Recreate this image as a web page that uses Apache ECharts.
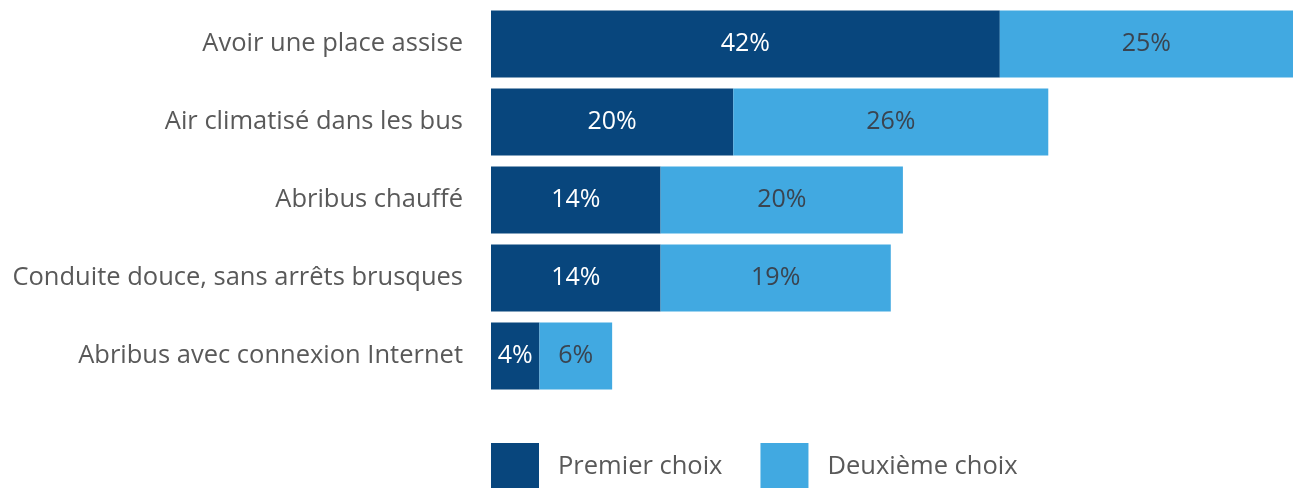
<!DOCTYPE html>
<html>
<head>
<meta charset="utf-8">
<script src="https://cdn.jsdelivr.net/npm/echarts@6/dist/echarts.min.js"></script>
<style>
  html, body { margin: 0; padding: 0; background: #fff; }
  #chart { width: 1293px; height: 488px; }
</style>
</head>
<body>
<div id="chart"></div>
<script>
// catégories, de haut en bas
const categories = [
  'Avoir une place assise',
  'Air climatisé dans les bus',
  'Abribus chauffé',
  'Conduite douce, sans arrêts brusques',
  'Abribus avec connexion Internet'
];
const premierChoix = [42, 20, 14, 14, 4];
const deuxiemeChoix = [25, 26, 20, 19, 6];

const chart = echarts.init(document.getElementById('chart'));

const font = 'Open Sans';

chart.setOption({
  animation: false,
  grid: { left: 491, right: 0, top: 5, height: 390 },
  xAxis: {
    type: 'value',
    min: 0,
    max: 66.2,
    show: false
  },
  yAxis: {
    type: 'category',
    data: categories,
    inverse: true,
    axisLine: { show: false },
    axisTick: { show: false },
    axisLabel: {
      margin: 28,
      fontFamily: font,
      fontSize: 25.5,
      color: '#595959'
    }
  },
  legend: {
    left: 491,
    top: 443,
    padding: 0,
    itemWidth: 48,
    itemHeight: 48,
    itemGap: 38,
    icon: 'rect',
    textStyle: {
      fontFamily: font,
      fontSize: 25.5,
      color: '#595959',
      padding: [0, 0, 0, 14]
    },
    data: ['Premier choix', 'Deuxième choix']
  },
  series: [
    {
      name: 'Premier choix',
      type: 'bar',
      stack: 'total',
      data: premierChoix,
      barWidth: 67,
      itemStyle: { color: '#08467d' },
      label: {
        show: true,
        formatter: '{c}%',
        fontFamily: font,
        fontSize: 25,
        color: '#ffffff'
      }
    },
    {
      name: 'Deuxième choix',
      type: 'bar',
      stack: 'total',
      data: deuxiemeChoix,
      barWidth: 67,
      itemStyle: { color: '#41a9e1' },
      label: {
        show: true,
        formatter: '{c}%',
        fontFamily: font,
        fontSize: 25,
        color: '#3a4450'
      }
    }
  ]
});
</script>
</body>
</html>
